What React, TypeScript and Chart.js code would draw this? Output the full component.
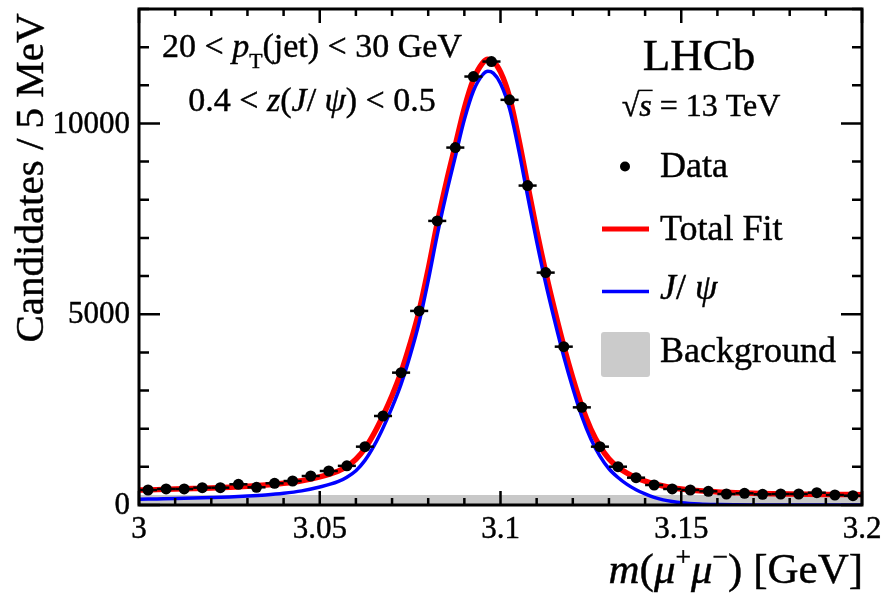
import React, { useEffect, useRef } from "react";
import { Chart, registerables } from "chart.js";

Chart.register(...registerables);

// ---------- data ----------
const dataMass = [
  3.0025, 3.0075, 3.0125, 3.0175, 3.0225, 3.0275, 3.0325, 3.0375, 3.0425, 3.0475,
  3.0525, 3.0575, 3.0625, 3.0675, 3.0725, 3.0775, 3.0825, 3.0875, 3.0925, 3.0975,
  3.1025, 3.1075, 3.1125, 3.1175, 3.1225, 3.1275, 3.1325, 3.1375, 3.1425, 3.1475,
  3.1525, 3.1575, 3.1625, 3.1675, 3.1725, 3.1775, 3.1825, 3.1875, 3.1925, 3.1975,
];
const dataCounts = [
  393, 420, 420, 454, 454, 543, 464, 569, 629, 760,
  891, 1026, 1529, 2333, 3469, 5087, 7446, 9368, 11230, 11623,
  10619, 8372, 6091, 4150, 2559, 1529, 1004, 716, 524, 420,
  393, 359, 288, 307, 281, 288, 288, 322, 262, 244,
];
const binHalfWidth = 0.0025;

const fitMass = [
  3.0, 3.005, 3.01, 3.015, 3.02, 3.025, 3.03, 3.035, 3.04, 3.045, 3.05, 3.055,
  3.0575, 3.06, 3.0625, 3.065, 3.0675, 3.07, 3.0725, 3.075, 3.0775, 3.08, 3.0825, 3.085,
  3.0875, 3.09, 3.0925, 3.095,
  3.0965, 3.098,
  3.1, 3.1025, 3.105, 3.1075, 3.11, 3.1125, 3.115, 3.1175, 3.12, 3.1225, 3.125, 3.1275,
  3.13, 3.1325, 3.135, 3.1375, 3.14, 3.1425, 3.145, 3.1475, 3.15,
  3.155, 3.16, 3.165, 3.17, 3.175, 3.18, 3.185, 3.19, 3.195, 3.2,
];
const totalFit = [
  390, 403, 417, 432, 448, 467, 490, 522, 568, 635, 735, 885,
  1010, 1200, 1480, 1870, 2340, 2870, 3480, 4230, 5090, 6180, 7380, 8450,
  9430, 10400, 11150, 11580,
  11680, 11630,
  11350, 10690, 9620, 8400, 7200, 6100, 5100, 4170, 3330, 2590, 1990, 1540,
  1210, 990, 835, 715, 625, 555, 498, 452, 418,
  372, 342, 322, 308, 297, 289, 283, 278, 274, 271,
];
const jpsiFit = [
  150, 160, 170, 182, 196, 212, 233, 262, 305, 370, 470, 610,
  730, 900, 1170, 1550, 2020, 2560, 3170, 3920, 4790, 5880, 7080, 8150,
  9130, 10100, 10850, 11270,
  11370, 11320,
  11050, 10390, 9320, 8100, 6910, 5810, 4820, 3890, 3060, 2320, 1730, 1280,
  950, 720, 540, 400, 290, 200, 135, 90, 58,
  25, 11, 5, 2, 1, 0, 0, 0, 0, 0,
];
const bgMass = [3.0, 3.2];
const bgLevel = [262, 262];

const xMajorTicks = [3, 3.05, 3.1, 3.15, 3.2];
const xTickLabels = ["3", "3.05", "3.1", "3.15", "3.2"];
const yMajorTicks = [0, 5000, 10000];
const yTickLabels = ["0", "5000", "10000"];
const xMinorStep = 0.01;
const yMinorStep = 1000;

const FONT = '"Liberation Serif", "Times New Roman", serif';
const TEXT_STROKE = 0.45;

type Run = { t: string; it?: boolean; sub?: boolean; sup?: boolean };

function fillBold(ctx: CanvasRenderingContext2D, t: string, x: number, y: number) {
  ctx.fillText(t, x, y);
  ctx.save();
  ctx.lineWidth = TEXT_STROKE;
  ctx.strokeStyle = ctx.fillStyle as string;
  ctx.strokeText(t, x, y);
  ctx.restore();
}

function drawRuns(
  ctx: CanvasRenderingContext2D,
  runs: Run[],
  x: number,
  y: number,
  size: number,
  align: "left" | "center" | "right"
) {
  const items = runs.map((r) => {
    const fs = r.sub || r.sup ? size * 0.64 : size;
    const font = `${r.it ? "italic " : ""}${fs}px ${FONT}`;
    ctx.font = font;
    const w = ctx.measureText(r.t).width;
    const dy = r.sub ? size * 0.32 : r.sup ? -size * 0.4 : 0;
    return { r, font, w, dy };
  });
  const total = items.reduce((s, i) => s + i.w, 0);
  let cx = align === "left" ? x : align === "right" ? x - total : x - total / 2;
  ctx.textAlign = "left";
  ctx.textBaseline = "alphabetic";
  for (const it of items) {
    ctx.font = it.font;
    fillBold(ctx, it.r.t, cx, y + it.dy);
    cx += it.w;
  }
  return total;
}

const decor = {
  id: "decor",
  afterDatasetsDraw(chart: any) {
    const ctx: CanvasRenderingContext2D = chart.ctx;
    const xs = chart.scales.x;
    const ys = chart.scales.y;
    ctx.save();
    ctx.strokeStyle = "#000";
    ctx.lineWidth = 2.5;
    dataMass.forEach((m, i) => {
      const py = ys.getPixelForValue(dataCounts[i]);
      ctx.beginPath();
      ctx.moveTo(xs.getPixelForValue(m - binHalfWidth), py);
      ctx.lineTo(xs.getPixelForValue(m + binHalfWidth), py);
      ctx.stroke();
    });
    ctx.restore();
  },
  afterDraw(chart: any) {
    const ctx: CanvasRenderingContext2D = chart.ctx;
    const xs = chart.scales.x;
    const ys = chart.scales.y;
    const a = chart.chartArea;
    ctx.save();
    ctx.fillStyle = "#000";
    ctx.strokeStyle = "#000";

    // ticks
    ctx.lineWidth = 2.5;
    const xMin = xs.min, xMax = xs.max, yMin = ys.min, yMax = ys.max;
    for (let k = 0; xMin + k * xMinorStep <= xMax + 1e-9; k++) {
      const v = xMin + k * xMinorStep;
      const major = xMajorTicks.some((t) => Math.abs(t - v) < 1e-6);
      const len = major ? 14 : 7;
      const px = xs.getPixelForValue(v);
      ctx.beginPath();
      ctx.moveTo(px, a.bottom);
      ctx.lineTo(px, a.bottom - len);
      ctx.moveTo(px, a.top);
      ctx.lineTo(px, a.top + len);
      ctx.stroke();
    }
    for (let k = 0; yMin + k * yMinorStep <= yMax + 1e-9; k++) {
      const v = yMin + k * yMinorStep;
      const major = yMajorTicks.some((t) => Math.abs(t - v) < 1e-6);
      const len = major ? 21 : 10;
      const py = ys.getPixelForValue(v);
      ctx.beginPath();
      ctx.moveTo(a.left, py);
      ctx.lineTo(a.left + len, py);
      ctx.moveTo(a.right, py);
      ctx.lineTo(a.right - len, py);
      ctx.stroke();
    }
    // frame
    ctx.lineWidth = 3;
    ctx.strokeRect(a.left, a.top, a.right - a.left, a.bottom - a.top);

    // tick labels
    ctx.font = `31px ${FONT}`;
    ctx.textAlign = "center";
    ctx.textBaseline = "alphabetic";
    xMajorTicks.forEach((v, i) => {
      fillBold(ctx, xTickLabels[i], xs.getPixelForValue(v), 538);
    });
    ctx.textAlign = "right";
    ctx.textBaseline = "middle";
    yMajorTicks.forEach((v, i) => {
      fillBold(ctx, yTickLabels[i], 130, ys.getPixelForValue(v) + 1);
    });

    // axis titles
    drawRuns(
      ctx,
      [
        { t: "m", it: true },
        { t: "(" },
        { t: "μ", it: true },
        { t: "+", sup: true },
        { t: "μ", it: true },
        { t: "−", sup: true },
        { t: ") [GeV]" },
      ],
      863,
      583,
      43,
      "right"
    );
    ctx.save();
    ctx.translate(43, 178);
    ctx.rotate(-Math.PI / 2);
    drawRuns(ctx, [{ t: "Candidates / 5 MeV" }], 0, 0, 41, "center");
    ctx.restore();

    // top-left labels
    drawRuns(
      ctx,
      [
        { t: "20 < " },
        { t: "p", it: true },
        { t: "T", sub: true },
        { t: "(jet) < 30 GeV" },
      ],
      312,
      57,
      34,
      "center"
    );
    drawRuns(
      ctx,
      [
        { t: "0.4 < " },
        { t: "z", it: true },
        { t: "(" },
        { t: "J", it: true },
        { t: "/ " },
        { t: "ψ", it: true },
        { t: ") < 0.5" },
      ],
      312,
      111,
      34,
      "center"
    );

    // LHCb block
    drawRuns(ctx, [{ t: "LHCb" }], 699, 70, 45, "center");
    {
      const size = 32;
      ctx.font = `${size}px ${FONT}`;
      const wr = ctx.measureText("√").width;
      ctx.font = `italic ${size}px ${FONT}`;
      const ws = ctx.measureText("s").width;
      ctx.font = `${size}px ${FONT}`;
      const wrest = ctx.measureText(" = 13 TeV").width;
      const total = wr + ws + wrest;
      const x0 = 701 - total / 2;
      const by = 116;
      ctx.textAlign = "left";
      ctx.textBaseline = "alphabetic";
      ctx.font = `${size}px ${FONT}`;
      fillBold(ctx, "√", x0, by);
      ctx.font = `italic ${size}px ${FONT}`;
      fillBold(ctx, "s", x0 + wr, by);
      ctx.lineWidth = 1.5;
      ctx.beginPath();
      ctx.moveTo(x0 + wr - 1, by - size * 0.8);
      ctx.lineTo(x0 + wr + ws + 1, by - size * 0.8);
      ctx.stroke();
      ctx.font = `${size}px ${FONT}`;
      fillBold(ctx, " = 13 TeV", x0 + wr + ws, by);
    }

    // legend
    const lsize = 36;
    ctx.fillStyle = "#000";
    ctx.beginPath();
    ctx.arc(625, 166.5, 5, 0, Math.PI * 2);
    ctx.fill();
    drawRuns(ctx, [{ t: "Data" }], 660, 177, lsize, "left");

    ctx.strokeStyle = "#ff0000";
    ctx.lineWidth = 5;
    ctx.beginPath();
    ctx.moveTo(602, 229);
    ctx.lineTo(649, 229);
    ctx.stroke();
    ctx.fillStyle = "#000";
    drawRuns(ctx, [{ t: "Total Fit" }], 660, 240, lsize, "left");

    ctx.strokeStyle = "#0000ff";
    ctx.lineWidth = 3.5;
    ctx.beginPath();
    ctx.moveTo(602, 291.5);
    ctx.lineTo(649, 291.5);
    ctx.stroke();
    drawRuns(
      ctx,
      [{ t: "J", it: true }, { t: "/ " }, { t: "ψ", it: true }],
      660,
      299,
      lsize,
      "left"
    );

    ctx.fillStyle = "#cbcbcb";
    ctx.beginPath();
    (ctx as any).roundRect(601, 332, 49, 45, 3);
    ctx.fill();
    ctx.fillStyle = "#000";
    drawRuns(ctx, [{ t: "Background" }], 660, 362, lsize, "left");

    ctx.restore();
  },
};

export default function App() {
  const ref = useRef<HTMLCanvasElement | null>(null);
  useEffect(() => {
    document.body.style.margin = "0";
    const canvas = ref.current;
    if (!canvas) return;
    const chart = new Chart(canvas, {
      type: "scatter",
      data: {
        datasets: [
          {
            label: "Data",
            data: dataMass.map((m, i) => ({ x: m, y: dataCounts[i] })),
            pointRadius: 5.5,
            pointHoverRadius: 5.5,
            pointBackgroundColor: "#000",
            pointBorderWidth: 0,
            showLine: false,
            order: 0,
          },
          {
            label: "J/ψ",
            data: fitMass.map((m, i) => ({ x: m, y: jpsiFit[i] })),
            showLine: true,
            borderColor: "#0000ff",
            borderWidth: 3.5,
            pointRadius: 0,
            cubicInterpolationMode: "monotone",
            fill: false,
            order: 1,
          },
          {
            label: "Total Fit",
            data: fitMass.map((m, i) => ({ x: m, y: totalFit[i] })),
            showLine: true,
            borderColor: "#ff0000",
            borderWidth: 5.5,
            pointRadius: 0,
            cubicInterpolationMode: "monotone",
            fill: false,
            order: 2,
          },
          {
            label: "Background",
            data: bgMass.map((m, i) => ({ x: m, y: bgLevel[i] })),
            showLine: true,
            borderWidth: 0,
            borderColor: "rgba(0,0,0,0)",
            backgroundColor: "#c8c8c8",
            pointRadius: 0,
            fill: "origin",
            order: 3,
          },
        ],
      },
      options: {
        responsive: false,
        animation: false,
        devicePixelRatio: 1,
        layout: { padding: { left: 139, right: 21, top: 9, bottom: 92 } },
        plugins: { legend: { display: false }, tooltip: { enabled: false } },
        events: [],
        scales: {
          x: { type: "linear", min: 3, max: 3.2, display: false },
          y: { type: "linear", min: 0, max: 13000, display: false },
        },
      } as any,
      plugins: [decor],
    });
    return () => chart.destroy();
  }, []);
  return (
    <div style={{ position: "absolute", left: 0, top: 0, width: 883, height: 597, background: "#fff" }}>
      <canvas ref={ref} width={883} height={597} style={{ display: "block", width: 883, height: 597 }} />
    </div>
  );
}
